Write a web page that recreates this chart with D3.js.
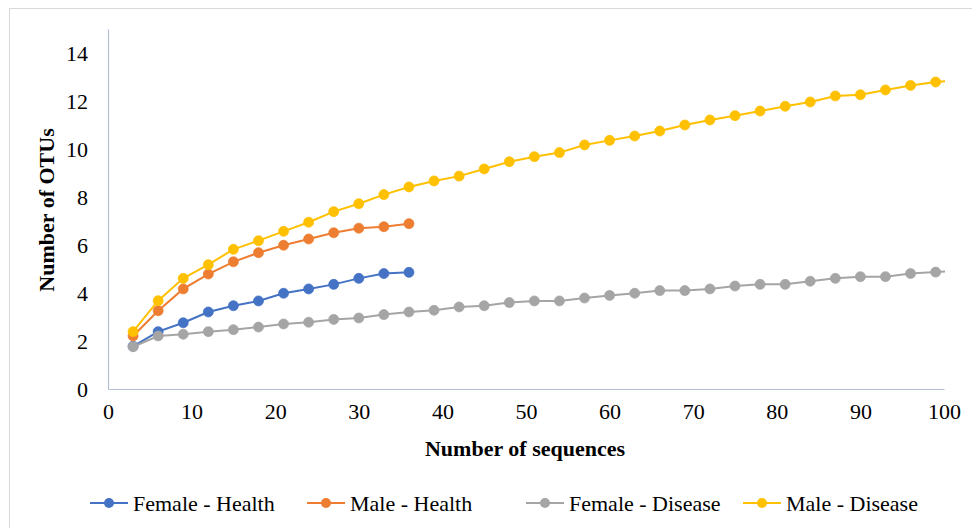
<!DOCTYPE html>
<html>
<head>
<meta charset="utf-8">
<script src="https://cdn.jsdelivr.net/npm/d3@7"></script>
<style>
  html, body { margin: 0; padding: 0; background: #fff; }
  svg { display: block; }
  svg text { font-family: "Liberation Serif", "Tinos", "Times New Roman", "DejaVu Serif", serif !important; fill: #000; }
</style>
</head>
<body>
<svg id="chart" width="972" height="528"></svg>
<script>
// ---- data ----
const seqHealth = [3, 6, 9, 12, 15, 18, 21, 24, 27, 30, 33, 36];
const seqDisease = [3, 6, 9, 12, 15, 18, 21, 24, 27, 30, 33, 36, 39, 42, 45, 48, 51, 54, 57, 60, 63, 66, 69, 72, 75, 78, 81, 84, 87, 90, 93, 96, 99, 102];

const femaleHealth = [1.78, 2.39, 2.76, 3.21, 3.47, 3.67, 3.99, 4.17, 4.36, 4.61, 4.81, 4.86];
const maleHealth = [2.21, 3.26, 4.17, 4.79, 5.30, 5.68, 5.99, 6.25, 6.51, 6.70, 6.76, 6.89];
const femaleDisease = [1.76, 2.21, 2.28, 2.39, 2.47, 2.58, 2.71, 2.78, 2.90, 2.96, 3.10, 3.21,
  3.28, 3.42, 3.47, 3.60, 3.67, 3.67, 3.79, 3.90, 3.99, 4.10, 4.10,
  4.17, 4.29, 4.36, 4.36, 4.49, 4.61, 4.68, 4.68, 4.81, 4.87, 4.93];
const maleDisease = [2.39, 3.68, 4.61, 5.18, 5.82, 6.18, 6.57, 6.95, 7.39, 7.72, 8.10, 8.42,
  8.67, 8.87, 9.17, 9.47, 9.68, 9.85, 10.17, 10.36, 10.54, 10.75, 11.00,
  11.21, 11.39, 11.58, 11.78, 11.96, 12.21, 12.26, 12.46, 12.65, 12.79, 12.88];

const seriesNames = ["Female - Health", "Male - Health", "Female - Disease", "Male - Disease"];
const seriesColors = ["#4472C4", "#ED7D31", "#A5A5A5", "#FFC000"];
const xTicks = [0, 10, 20, 30, 40, 50, 60, 70, 80, 90, 100];
const yTicks = [0, 2, 4, 6, 8, 10, 12, 14];

const series = [
  { name: seriesNames[0], color: seriesColors[0], xs: seqHealth, ys: femaleHealth },
  { name: seriesNames[1], color: seriesColors[1], xs: seqHealth, ys: maleHealth },
  { name: seriesNames[2], color: seriesColors[2], xs: seqDisease, ys: femaleDisease },
  { name: seriesNames[3], color: seriesColors[3], xs: seqDisease, ys: maleDisease }
];

// ---- layout ----
const svg = d3.select("#chart");
const plot = { left: 108, right: 944, top: 29, bottom: 389 };
const FONT = "'Liberation Serif', Tinos, 'Times New Roman', 'DejaVu Serif', serif";

const x = d3.scaleLinear().domain([0, 100]).range([plot.left, plot.right]);
const y = d3.scaleLinear().domain([0, 15]).range([plot.bottom, plot.top]);

// outer chart border
svg.append("rect")
  .attr("x", 9.5).attr("y", 8.5)
  .attr("width", 980).attr("height", 540)
  .attr("fill", "none").attr("stroke", "#D9D9D9").attr("stroke-width", 1);

// clip
svg.append("defs").append("clipPath").attr("id", "plotclip")
  .append("rect")
  .attr("x", plot.left).attr("y", 0)
  .attr("width", plot.right - plot.left + 1).attr("height", plot.bottom + 10);

// axes
const axisColor = "#B4BFD3";
const yAxis = svg.append("g")
  .attr("transform", `translate(${plot.left},0)`)
  .attr("font-family", FONT)
  .call(d3.axisLeft(y).tickValues(yTicks).tickSize(0).tickPadding(20));
yAxis.attr("font-family", FONT);
yAxis.select(".domain").attr("stroke", axisColor).attr("stroke-width", 1.2);
yAxis.selectAll("text").attr("font-size", 22).attr("font-family", FONT);

const xAxis = svg.append("g")
  .attr("transform", `translate(0,${plot.bottom})`)
  .call(d3.axisBottom(x).tickValues(xTicks).tickSize(0).tickPadding(14));
xAxis.attr("font-family", FONT);
xAxis.select(".domain").attr("stroke", axisColor).attr("stroke-width", 1.2);
xAxis.selectAll("text").attr("font-size", 22).attr("font-family", FONT);

// axis titles
svg.append("text")
  .attr("x", (plot.left + plot.right) / 2 - 1)
  .attr("y", 456)
  .attr("text-anchor", "middle")
  .attr("font-family", FONT)
  .attr("font-size", 22).attr("font-weight", "bold")
  .text("Number of sequences");

svg.append("text")
  .attr("transform", `translate(54,${210}) rotate(-90)`)
  .attr("text-anchor", "middle")
  .attr("font-family", FONT)
  .attr("font-size", 22).attr("font-weight", "bold")
  .text("Number of OTUs");

// series
const lineGen = d3.line().x(d => x(d[0])).y(d => y(d[1]));
const gSeries = svg.append("g").attr("clip-path", "url(#plotclip)");
series.forEach(s => {
  const pts = s.xs.map((v, i) => [v, s.ys[i]]);
  const g = gSeries.append("g");
  g.append("path").datum(pts)
    .attr("d", lineGen)
    .attr("fill", "none").attr("stroke", s.color).attr("stroke-width", 2);
  g.selectAll("circle").data(pts).enter().append("circle")
    .attr("cx", d => x(d[0])).attr("cy", d => y(d[1]))
    .attr("r", 5).attr("fill", s.color).attr("stroke", s.color).attr("stroke-width", 0.75);
});

// legend
const legendY = 503;
const legendItems = [90, 307, 526, 743];
series.forEach((s, i) => {
  const lx = legendItems[i];
  const g = svg.append("g").attr("transform", `translate(${lx},${legendY})`);
  g.append("line").attr("x1", 0).attr("x2", 38).attr("y1", 0).attr("y2", 0)
    .attr("stroke", s.color).attr("stroke-width", 2);
  g.append("circle").attr("cx", 19).attr("cy", 0).attr("r", 5).attr("fill", s.color);
  g.append("text").attr("x", 43).attr("y", 0).attr("dy", "0.35em")
    .attr("font-family", FONT)
    .attr("font-size", 22).text(s.name);
});
</script>
</body>
</html>
